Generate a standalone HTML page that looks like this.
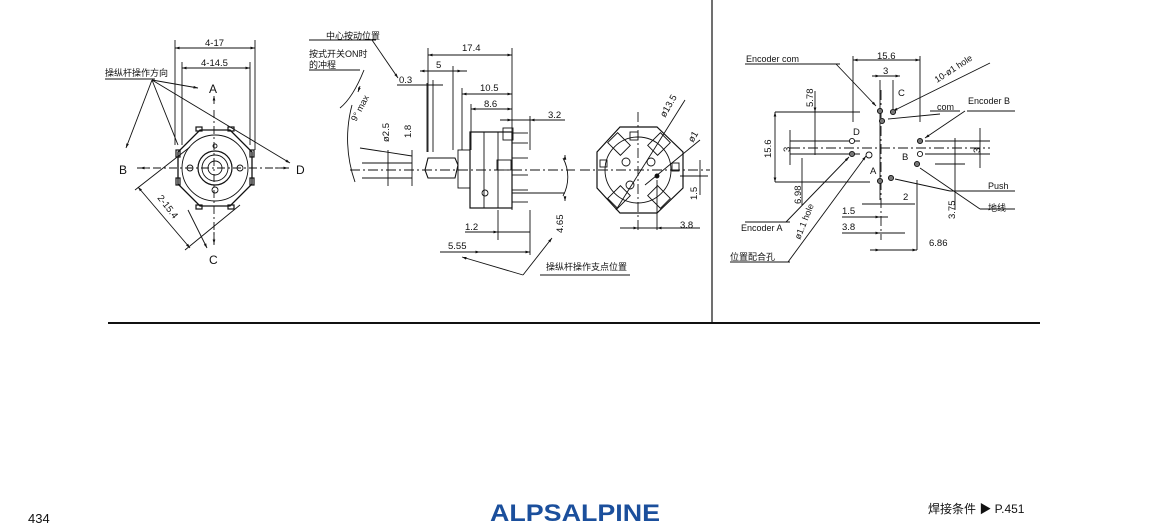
<!DOCTYPE html>
<html><head><meta charset="utf-8">
<style>
html,body{margin:0;padding:0;background:#fff;}
svg{display:block;}
text{font-family:"Liberation Sans","Noto Sans CJK SC",sans-serif;fill:#111;}
</style></head><body>
<svg width="1150" height="529" viewBox="0 0 1150 529" xmlns="http://www.w3.org/2000/svg">
<defs>
<marker id="a" viewBox="0 0 10 10" refX="10" refY="5" markerWidth="7" markerHeight="5" orient="auto-start-reverse"><path d="M0,2 L10,5 L0,8 z" fill="#111"/></marker>
</defs>
<g stroke="#111" stroke-width="0.9" fill="none">
<line x1="712" y1="0" x2="712" y2="322" stroke-width="1.2"/>
<line x1="108" y1="323" x2="1040" y2="323" stroke-width="2"/>

<!-- LEFT VIEW -->
<line x1="175" y1="40" x2="175" y2="145"/><line x1="255" y1="40" x2="255" y2="150"/>
<line x1="175" y1="48" x2="255" y2="48" marker-start="url(#a)" marker-end="url(#a)"/>
<line x1="182" y1="62" x2="182" y2="145"/><line x1="250" y1="62" x2="250" y2="145"/>
<line x1="182" y1="68" x2="250" y2="68" marker-start="url(#a)" marker-end="url(#a)"/>
<line x1="105" y1="79" x2="155" y2="79"/>
<line x1="152" y1="80" x2="198" y2="88" marker-end="url(#a)"/>
<line x1="152" y1="80" x2="126" y2="148" marker-end="url(#a)"/>
<line x1="152" y1="80" x2="178" y2="145"/>
<line x1="152" y1="80" x2="290" y2="163" marker-end="url(#a)"/>
<line x1="214" y1="104" x2="214" y2="96" marker-end="url(#a)"/>
<line x1="137" y1="168" x2="290" y2="168" stroke-dasharray="8,3,2,3"/>
<line x1="150" y1="168" x2="140" y2="168" marker-end="url(#a)"/>
<line x1="275" y1="168" x2="288" y2="168" marker-end="url(#a)"/>
<line x1="214" y1="110" x2="214" y2="245" stroke-dasharray="8,3,2,3"/>
<line x1="214" y1="232" x2="214" y2="244" marker-end="url(#a)"/>
<line x1="188" y1="210" x2="207" y2="248" marker-end="url(#a)"/>
<line x1="135" y1="190" x2="190" y2="147"/>
<line x1="185" y1="250" x2="240" y2="205"/>
<line x1="138" y1="187" x2="190" y2="248" marker-start="url(#a)" marker-end="url(#a)"/>
<polygon points="200,130 230,130 252,152 252,184 230,206 200,206 178,184 178,152" stroke-width="1.3"/>
<circle cx="215" cy="168" r="33"/>
<circle cx="215" cy="168" r="17" stroke-width="1.2"/>
<circle cx="215" cy="168" r="13"/>
<circle cx="215" cy="168" r="7"/>
<circle cx="190" cy="168" r="3"/><circle cx="240" cy="168" r="3"/>
<circle cx="215" cy="146" r="2"/><circle cx="215" cy="190" r="3"/>
<g stroke-width="1.2">
<rect x="196" y="127" width="6" height="4"/><rect x="228" y="127" width="6" height="4"/>
<rect x="176" y="150" width="4" height="7"/><rect x="250" y="150" width="4" height="7"/>
<rect x="176" y="178" width="4" height="7"/><rect x="250" y="178" width="4" height="7"/>
<rect x="196" y="205" width="6" height="4"/><rect x="228" y="205" width="6" height="4"/>
</g>

<!-- MIDDLE SIDE VIEW -->
<line x1="309" y1="40" x2="376" y2="40"/><line x1="372" y1="40" x2="398" y2="78" marker-end="url(#a)"/>
<line x1="309" y1="70" x2="360" y2="70"/>
<path d="M364,70 C358,85 350,100 340,108" /><line x1="360" y1="86" x2="358" y2="92" marker-end="url(#a)"/>
<path d="M352,105 A130,130 0 0 0 355,182"/>
<line x1="428" y1="48" x2="428" y2="152"/><line x1="512" y1="48" x2="512" y2="210"/>
<line x1="428" y1="55" x2="512" y2="55" marker-start="url(#a)" marker-end="url(#a)"/>
<line x1="453" y1="66" x2="453" y2="150"/>
<line x1="420" y1="71" x2="467" y2="71"/>
<line x1="428" y1="71" x2="420" y2="71" marker-end="url(#a)"/><line x1="453" y1="71" x2="462" y2="71" marker-end="url(#a)"/>
<line x1="397" y1="85" x2="443" y2="85"/>
<line x1="427" y1="83" x2="427" y2="152"/>
<line x1="433" y1="80" x2="433" y2="152"/>
<line x1="462" y1="88" x2="462" y2="150"/>
<line x1="462" y1="94" x2="512" y2="94" marker-start="url(#a)" marker-end="url(#a)"/>
<line x1="471" y1="104" x2="471" y2="150"/>
<line x1="471" y1="109" x2="512" y2="109" marker-start="url(#a)" marker-end="url(#a)"/>
<line x1="500" y1="120" x2="565" y2="120"/>
<line x1="500" y1="120" x2="512" y2="120" marker-end="url(#a)"/><line x1="540" y1="120" x2="530" y2="120" marker-end="url(#a)"/>
<line x1="530" y1="116" x2="530" y2="150"/>
<line x1="350" y1="170" x2="575" y2="170" stroke-dasharray="10,3,2,3"/>
<line x1="360" y1="148" x2="412" y2="156"/>
<line x1="362" y1="163" x2="412" y2="163"/><line x1="362" y1="178" x2="412" y2="178"/>
<line x1="388" y1="150" x2="388" y2="186"/><line x1="412" y1="150" x2="412" y2="186"/>
<polygon points="428,158 455,158 458,165 455,178 428,178 425,170" stroke-width="1.1"/>
<rect x="458" y="150" width="12" height="38"/>
<rect x="470" y="132" width="42" height="76" stroke-width="1.2"/>
<line x1="484" y1="132" x2="484" y2="208"/><line x1="498" y1="132" x2="498" y2="208"/>
<rect x="503" y="128" width="10" height="12"/>
<line x1="512" y1="133" x2="528" y2="133"/><line x1="512" y1="143" x2="528" y2="143"/>
<line x1="512" y1="158" x2="528" y2="158"/><line x1="512" y1="175" x2="528" y2="175"/>
<line x1="512" y1="190" x2="528" y2="190"/><line x1="512" y1="202" x2="528" y2="202"/>
<rect x="497" y="160" width="14" height="10"/>
<circle cx="485" cy="193" r="3"/>
<line x1="512" y1="193" x2="565" y2="193"/>
<path d="M563,158 A40,40 0 0 1 563,196"/>
<line x1="565" y1="160" x2="565" y2="155" marker-end="url(#a)"/>
<line x1="565" y1="196" x2="565" y2="201" marker-end="url(#a)"/>
<line x1="498" y1="210" x2="498" y2="240"/><line x1="530" y1="210" x2="530" y2="255"/>
<line x1="465" y1="232" x2="530" y2="232"/>
<line x1="480" y1="232" x2="498" y2="232" marker-end="url(#a)"/>
<line x1="440" y1="252" x2="530" y2="252"/>
<line x1="480" y1="252" x2="470" y2="252" marker-start="url(#a)"/>
<line x1="520" y1="252" x2="530" y2="252" marker-end="url(#a)"/>
<line x1="540" y1="275" x2="630" y2="275"/>
<line x1="523" y1="275" x2="462" y2="257" marker-end="url(#a)"/>
<line x1="523" y1="275" x2="552" y2="238" marker-end="url(#a)"/>

<!-- FRONT VIEW -->
<polygon points="620,127 657,127 683,152 683,188 657,213 620,213 597,188 597,152" stroke-width="1.2"/>
<circle cx="638" cy="170" r="33"/>
<rect x="610" y="137" width="18" height="14" transform="rotate(45 619 144)"/>
<rect x="650" y="137" width="18" height="14" transform="rotate(-45 659 144)"/>
<rect x="610" y="190" width="18" height="14" transform="rotate(-45 619 197)"/>
<rect x="650" y="190" width="18" height="14" transform="rotate(45 659 197)"/>
<rect x="630" y="132" width="8" height="8"/><rect x="600" y="160" width="7" height="7"/><rect x="672" y="163" width="7" height="8"/>
<circle cx="626" cy="162" r="4"/><circle cx="651" cy="162" r="4"/><circle cx="630" cy="185" r="4"/>
<circle cx="657" cy="176" r="2" fill="#111"/>
<line x1="580" y1="170" x2="710" y2="170" stroke-dasharray="10,3,2,3"/>
<line x1="638" y1="112" x2="638" y2="230" stroke-dasharray="10,3,2,3"/>
<line x1="616" y1="210" x2="685" y2="100"/>
<line x1="645" y1="185" x2="700" y2="140"/>
<line x1="657" y1="180" x2="657" y2="230"/>
<line x1="680" y1="176" x2="708" y2="176"/>
<line x1="700" y1="160" x2="700" y2="195"/>
<line x1="620" y1="228" x2="700" y2="228"/>
<line x1="630" y1="228" x2="638" y2="228" marker-end="url(#a)"/>
<line x1="668" y1="228" x2="657" y2="228" marker-end="url(#a)"/>

<!-- RIGHT HOLE PATTERN -->
<g stroke-dasharray="10,3,2,3">
<line x1="790" y1="148" x2="990" y2="148"/>
<line x1="881" y1="90" x2="881" y2="240"/>
</g>
<line x1="853" y1="56" x2="853" y2="122"/><line x1="920" y1="56" x2="920" y2="122"/>
<line x1="853" y1="60" x2="920" y2="60" marker-start="url(#a)" marker-end="url(#a)"/>
<line x1="872" y1="76" x2="895" y2="76"/>
<line x1="880" y1="76" x2="872" y2="76" marker-start="url(#a)"/>
<line x1="893" y1="76" x2="900" y2="76" marker-end="url(#a)"/>
<line x1="880" y1="80" x2="880" y2="200"/><line x1="893" y1="80" x2="893" y2="112"/>
<line x1="745" y1="64" x2="840" y2="64"/><line x1="836" y1="64" x2="876" y2="106" marker-end="url(#a)"/>
<line x1="990" y1="63" x2="893" y2="111" marker-end="url(#a)"/>
<line x1="940" y1="114" x2="888" y2="119"/>
<line x1="930" y1="111" x2="960" y2="111"/>
<line x1="967" y1="111" x2="1015" y2="111"/><line x1="965" y1="111" x2="925" y2="138" marker-end="url(#a)"/>
<line x1="775" y1="112" x2="860" y2="112"/><line x1="775" y1="182" x2="870" y2="182"/>
<line x1="775" y1="112" x2="775" y2="182" marker-start="url(#a)" marker-end="url(#a)"/>
<line x1="815" y1="91" x2="815" y2="155"/>
<line x1="815" y1="112" x2="815" y2="108" marker-start="url(#a)"/>
<line x1="790" y1="141" x2="860" y2="141"/><line x1="790" y1="154" x2="860" y2="154"/>
<line x1="790" y1="130" x2="790" y2="165"/>
<line x1="802" y1="158" x2="802" y2="205"/>
<line x1="925" y1="141" x2="990" y2="141"/><line x1="925" y1="154" x2="990" y2="154"/>
<line x1="980" y1="128" x2="980" y2="168"/>
<line x1="935" y1="164" x2="965" y2="164"/>
<line x1="955" y1="138" x2="955" y2="210"/>
<line x1="917" y1="180" x2="917" y2="250"/>
<line x1="745" y1="222" x2="790" y2="222"/><line x1="786" y1="222" x2="849" y2="157" marker-end="url(#a)"/>
<line x1="730" y1="262" x2="790" y2="262"/><line x1="788" y1="262" x2="866" y2="156" marker-end="url(#a)"/>
<line x1="1015" y1="191" x2="950" y2="191"/><line x1="950" y1="191" x2="895" y2="179"/>
<line x1="1015" y1="209" x2="980" y2="209"/><line x1="980" y1="209" x2="920" y2="168"/>
<line x1="862" y1="204" x2="915" y2="204"/>
<line x1="842" y1="217" x2="888" y2="217"/><line x1="862" y1="217" x2="880" y2="217" marker-end="url(#a)"/>
<line x1="842" y1="233" x2="905" y2="233"/><line x1="862" y1="233" x2="880" y2="233" marker-end="url(#a)"/>
<line x1="870" y1="250" x2="917" y2="250"/>
<line x1="880" y1="250" x2="870" y2="250" marker-start="url(#a)"/><line x1="905" y1="250" x2="917" y2="250" marker-end="url(#a)"/>
<g fill="#fff">
<circle cx="880" cy="111" r="2.6" fill="#777"/><circle cx="893" cy="112" r="2.6" fill="#777"/><circle cx="882" cy="121" r="2.6" fill="#777"/>
<circle cx="852" cy="141" r="2.6"/><circle cx="852" cy="154" r="2.6" fill="#777"/><circle cx="869" cy="155" r="3"/>
<circle cx="920" cy="141" r="2.6" fill="#777"/><circle cx="920" cy="154" r="2.6"/><circle cx="917" cy="164" r="2.6" fill="#777"/>
<circle cx="880" cy="181" r="2.6" fill="#777"/><circle cx="891" cy="178" r="2.6" fill="#777"/>
</g>
</g>

<g font-size="9.5">
<text x="205" y="46">4-17</text>
<text x="201" y="66">4-14.5</text>
<text x="105" y="76" font-size="9">操纵杆操作方向</text>
<text x="209" y="93" font-size="12">A</text>
<text x="119" y="174" font-size="12">B</text>
<text x="209" y="264" font-size="12">C</text>
<text x="296" y="174" font-size="12">D</text>
<text x="0" y="0" transform="translate(157,198) rotate(52)">2-15.4</text>
<text x="326" y="39" font-size="9">中心按动位置</text>
<text x="309" y="57" font-size="9">按式开关ON时</text>
<text x="309" y="68" font-size="9">的冲程</text>
<text x="0" y="0" transform="translate(356,122) rotate(-62)" font-size="9">9° max</text>
<text x="462" y="51">17.4</text>
<text x="436" y="68">5</text>
<text x="399" y="83">0.3</text>
<text x="480" y="91">10.5</text>
<text x="484" y="107">8.6</text>
<text x="548" y="118">3.2</text>
<text x="0" y="0" transform="translate(389,142) rotate(-90)">ø2.5</text>
<text x="0" y="0" transform="translate(411,138) rotate(-90)">1.8</text>
<text x="465" y="230">1.2</text>
<text x="448" y="249">5.55</text>
<text x="0" y="0" transform="translate(563,233) rotate(-90)">4.65</text>
<text x="546" y="270" font-size="9">操纵杆操作支点位置</text>
<text x="0" y="0" transform="translate(665,118) rotate(-60)">ø13.5</text>
<text x="0" y="0" transform="translate(693,143) rotate(-60)">ø1</text>
<text x="0" y="0" transform="translate(697,200) rotate(-90)">1.5</text>
<text x="680" y="228">3.8</text>
<text x="746" y="62" font-size="9">Encoder com</text>
<text x="877" y="59">15.6</text>
<text x="883" y="74">3</text>
<text x="0" y="0" transform="translate(937,83) rotate(-33)" font-size="9">10-ø1 hole</text>
<text x="898" y="96">C</text>
<text x="937" y="110" font-size="9">com</text>
<text x="968" y="104" font-size="9">Encoder B</text>
<text x="0" y="0" transform="translate(813,107) rotate(-90)">5.78</text>
<text x="0" y="0" transform="translate(771,158) rotate(-90)">15.6</text>
<text x="0" y="0" transform="translate(790,152) rotate(-90)">3</text>
<text x="853" y="135">D</text>
<text x="902" y="160">B</text>
<text x="0" y="0" transform="translate(980,153) rotate(-90)">3</text>
<text x="870" y="174">A</text>
<text x="0" y="0" transform="translate(801,204) rotate(-90)">6.98</text>
<text x="988" y="189" font-size="9">Push</text>
<text x="988" y="211" font-size="9">地线</text>
<text x="903" y="200">2</text>
<text x="842" y="214">1.5</text>
<text x="842" y="230">3.8</text>
<text x="0" y="0" transform="translate(955,219) rotate(-90)">3.75</text>
<text x="0" y="0" transform="translate(800,240) rotate(-68)" font-size="9">ø1.1 hole</text>
<text x="741" y="231" font-size="9">Encoder A</text>
<text x="730" y="260" font-size="9">位置配合孔</text>
<text x="929" y="246">6.86</text>
<text x="28" y="523" font-size="13">434</text>
<text x="928" y="513" font-size="12">焊接条件 ▶ P.451</text>
<text x="490" y="521" font-size="24" font-weight="bold" textLength="170" lengthAdjust="spacingAndGlyphs" style="fill:#1b4f9c">ALPSALPINE</text>
</g>
</svg>
</body></html>
